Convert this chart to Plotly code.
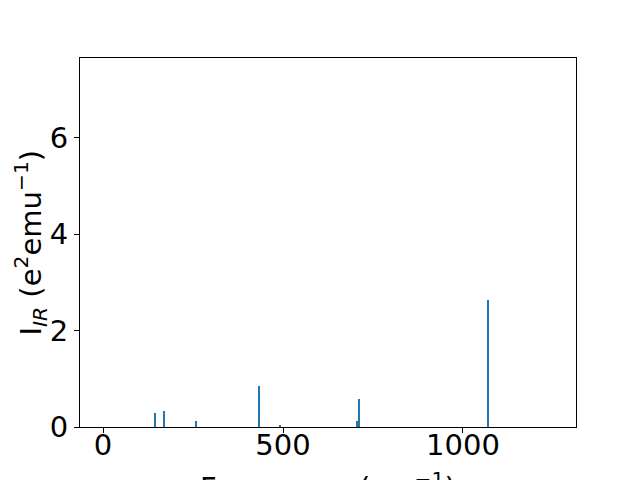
import plotly.graph_objects as go

freqs = [145, 170, 259, 434, 492, 706, 712, 1070]
intensities = [0.29, 0.33, 0.12, 0.85, 0.04, 0.12, 0.58, 2.63]
x_ticks = [0, 500, 1000]
y_ticks = [0, 2, 4, 6]

fig = go.Figure()
fig.add_trace(go.Bar(x=freqs, y=intensities, width=3, marker=dict(color="#1f77b4", line=dict(width=0))))

font = dict(family="DejaVu Sans", size=29, color="black")
fig.update_layout(
    width=640, height=480,
    margin=dict(l=72, r=72, t=50, b=61),
    plot_bgcolor="white", paper_bgcolor="white",
    font=font, showlegend=False, bargap=0,
)
fig.update_xaxes(
    range=[-64, 1314], tickvals=x_ticks, ticks="outside", ticklen=5, tickcolor="black",
    showline=True, linecolor="black", linewidth=1, mirror=True, showgrid=False, zeroline=False,
    automargin=False, ticklabelstandoff=-13,
)
fig.update_yaxes(
    range=[0, 7.66], tickvals=y_ticks, ticks="outside", ticklen=5, tickcolor="black",
    showline=True, linecolor="black", linewidth=1, mirror=True, showgrid=False, zeroline=False,
    automargin=False,
)
fig.add_annotation(text="Frequency (cm<sup>−1</sup>)", x=0.5, y=0, xref="paper", yref="paper",
                   xanchor="center", yanchor="middle", yshift=-59, showarrow=False,
                   font=dict(size=29))
fig.add_annotation(text="I<sub><i>IR</i></sub> (e<sup>2</sup>emu<sup>−1</sup>)", x=0, y=0.5,
                   xref="paper", yref="paper", xanchor="center", yanchor="middle", xshift=-50,
                   textangle=-90, showarrow=False, font=dict(size=29))
fig.write_html("out.html")
